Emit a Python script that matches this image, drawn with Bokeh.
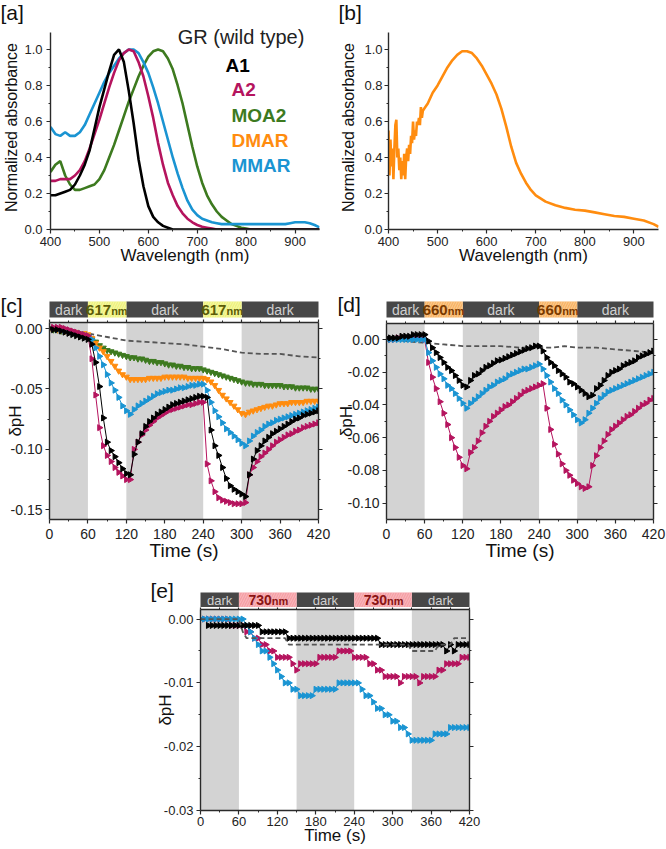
import math
from bokeh.plotting import figure
from bokeh.models import (Range1d, FixedTicker, LinearAxis, Label, BoxAnnotation, Spacer,
                          NumeralTickFormatter, CustomLabelingPolicy)
from bokeh.layouts import row, column
from bokeh.embed import file_html
from bokeh.resources import INLINE
from bokeh.core.properties import value

FONT = "Liberation Sans"
AXC = "#2a2a2a"
C_BLACK = "#000000"
C_MAG = "#b5145e"
C_GREEN = "#3d7a1f"
C_ORANGE = "#ff8c0f"
C_BLUE = "#1a94d2"
C_DASH = "#555555"
SHADE = "#d3d3d3"
NAN = float("nan")

# ---------------- panel a: spectra ----------------
WL = [400, 410, 420, 430, 440, 450, 460, 470, 480, 490,
      500, 510, 520, 530, 540, 550, 560, 570, 580, 590,
      600, 610, 620, 630, 640, 650, 660, 670, 680, 690,
      700, 710, 720, 730, 740, 750, 760, 770, 780, 790,
      800, 810, 820, 830, 840, 850, 860, 870, 880, 890,
      900, 910, 920, 930, 940, 950]
ABS_A1 = [0.19, 0.19, 0.20, 0.21, 0.22, 0.25, 0.30, 0.36, 0.44, 0.56,
          0.68, 0.78, 0.88, 0.97, 1.00, 0.93, 0.77, 0.59, 0.39, 0.24,
          0.13, 0.07, 0.04, 0.02, 0.01, 0.00, 0.00, 0.00, 0.00, 0.00,
          0.00, 0.00, 0.00, 0.00, 0.00, 0.00, 0.00, 0.00, 0.00, 0.00,
          0.00, 0.00, 0.00, 0.00, 0.00, 0.00, 0.00, 0.00, 0.00, 0.00,
          0.00, 0.00, 0.00, 0.00, 0.00, 0.00]
ABS_A2 = [0.27, 0.27, 0.28, 0.28, 0.28, 0.30, 0.33, 0.38, 0.45, 0.53,
          0.61, 0.70, 0.79, 0.87, 0.94, 0.98, 1.00, 0.99, 0.93, 0.85,
          0.74, 0.62, 0.48, 0.36, 0.26, 0.19, 0.13, 0.09, 0.06, 0.04,
          0.025, 0.015, 0.01, 0.005, 0.00, 0.00, 0.00, 0.00, 0.00, 0.00,
          0.00, 0.00, 0.00, 0.00, 0.00, 0.00, 0.00, 0.00, 0.00, 0.00,
          0.00, 0.00, 0.00, 0.00, 0.00, 0.00]
ABS_MOA2 = [0.32, 0.36, 0.38, 0.30, 0.25, 0.22, 0.22, 0.23, 0.24, 0.25,
            0.28, 0.33, 0.40, 0.47, 0.55, 0.63, 0.71, 0.78, 0.85, 0.91,
            0.96, 0.99, 1.00, 0.99, 0.95, 0.89, 0.80, 0.70, 0.58, 0.46,
            0.35, 0.26, 0.19, 0.14, 0.10, 0.07, 0.05, 0.03, 0.02, 0.01,
            0.005, 0.00, 0.00, 0.00, 0.00, 0.00, 0.00, 0.00, 0.00, 0.00,
            0.00, 0.00, 0.00, 0.00, 0.00, 0.00]
ABS_MMAR = [0.57, 0.53, 0.52, 0.54, 0.52, 0.52, 0.54, 0.58, 0.64, 0.70,
            0.76, 0.82, 0.87, 0.91, 0.95, 0.98, 1.00, 1.00, 0.98, 0.93,
            0.87, 0.79, 0.70, 0.60, 0.50, 0.40, 0.31, 0.23, 0.16, 0.11,
            0.08, 0.06, 0.05, 0.04, 0.035, 0.03, 0.03, 0.03, 0.03, 0.03,
            0.03, 0.03, 0.03, 0.03, 0.03, 0.03, 0.03, 0.03, 0.03, 0.035,
            0.04, 0.04, 0.04, 0.035, 0.025, 0.012]
LEGEND_NAMES = ["A1", "A2", "MOA2", "DMAR", "MMAR"]
LEGEND_COLORS = [C_BLACK, C_MAG, C_GREEN, C_ORANGE, C_BLUE]

# ---------------- panel b: DMAR spectrum ----------------
WL_B = [400, 402, 404, 406, 408, 410, 412, 414, 416, 418,
        420, 422, 424, 426, 428, 430, 432, 434, 436, 438,
        440, 442, 444, 446, 448, 450, 452, 454, 456, 458,
        460, 462, 464, 466, 468, 470, 475, 480, 490, 500,
        510, 520, 530, 540, 550, 560, 570, 580, 590, 600,
        610, 620, 630, 640, 650, 660, 670, 680, 690, 700,
        720, 740, 760, 780, 800, 820, 840, 860, 880, 900,
        920, 940, 950]
ABS_DMAR = [0.55, 0.30, 0.50, 0.35, 0.45, 0.28, 0.45, 0.58, 0.61, 0.40,
            0.45, 0.33, 0.40, 0.28, 0.38, 0.30, 0.42, 0.28, 0.40, 0.45,
            0.38, 0.47, 0.42, 0.52, 0.48, 0.60, 0.50, 0.55, 0.52, 0.60,
            0.58, 0.62, 0.58, 0.68, 0.62, 0.66, 0.68, 0.70, 0.76, 0.80,
            0.85, 0.90, 0.94, 0.97, 0.99, 0.99, 0.98, 0.95, 0.91, 0.86,
            0.81, 0.75, 0.67, 0.57, 0.46, 0.37, 0.31, 0.26, 0.22, 0.19,
            0.155, 0.135, 0.12, 0.11, 0.105, 0.095, 0.085, 0.075, 0.07, 0.06,
            0.05, 0.03, 0.015]

# ---------------- time axis for c, d, e ----------------
T = [0, 6, 12, 18, 24, 30, 36, 42, 48, 54,
     60, 66, 72, 78, 84, 90, 96, 102, 108, 114,
     120, 126, 132, 138, 144, 150, 156, 162, 168, 174,
     180, 186, 192, 198, 204, 210, 216, 222, 228, 234,
     240, 246, 252, 258, 264, 270, 276, 282, 288, 294,
     300, 306, 312, 318, 324, 330, 336, 342, 348, 354,
     360, 366, 372, 378, 384, 390, 396, 402, 408, 414,
     420]

# ---------------- panel c: 617 nm ----------------
C_A1 = [0.000, -0.001, -0.001, -0.002, -0.003, -0.004, -0.005, -0.006, -0.007, -0.008,
        -0.009, -0.013, -0.028, -0.048, -0.074, -0.094, -0.101, -0.106, -0.111, -0.116,
        -0.120, -0.121, -0.104, -0.094, -0.087, -0.081, -0.077, -0.074, -0.071, -0.069,
        -0.067, -0.065, -0.063, -0.062, -0.061, -0.060, -0.059, -0.058, -0.057, -0.056,
        -0.056, -0.057, -0.084, -0.097, -0.105, -0.115, -0.124, -0.130, -0.133, -0.135,
        -0.137, -0.139, -0.121, -0.108, -0.101, -0.097, -0.093, -0.090, -0.087, -0.085,
        -0.083, -0.081, -0.079, -0.077, -0.075, -0.074, -0.072, -0.071, -0.070, -0.069,
        -0.068]
C_A2 = [0.000, 0.001, 0.001, 0.001, 0.000, -0.001, -0.002, -0.003, -0.004, -0.005,
        -0.006, -0.025, -0.055, -0.082, -0.097, -0.105, -0.110, -0.115, -0.119, -0.122,
        -0.125, -0.125, -0.100, -0.094, -0.088, -0.084, -0.080, -0.077, -0.074, -0.072,
        -0.070, -0.068, -0.067, -0.066, -0.065, -0.064, -0.063, -0.063, -0.062, -0.061,
        -0.061, -0.112, -0.126, -0.135, -0.140, -0.142, -0.143, -0.144, -0.145, -0.145,
        -0.145, -0.144, -0.121, -0.115, -0.110, -0.106, -0.103, -0.100, -0.097, -0.094,
        -0.092, -0.090, -0.088, -0.087, -0.085, -0.084, -0.082, -0.081, -0.080, -0.079,
        -0.078]
C_MMAR = [0.000, 0.000, -0.001, -0.001, -0.002, -0.002, -0.003, -0.004, -0.004, -0.005,
          -0.006, -0.009, -0.016, -0.023, -0.030, -0.038, -0.045, -0.051, -0.057, -0.064,
          -0.068, -0.071, -0.067, -0.064, -0.062, -0.060, -0.058, -0.056, -0.054, -0.053,
          -0.052, -0.051, -0.051, -0.050, -0.049, -0.049, -0.048, -0.047, -0.047, -0.046,
          -0.046, -0.051, -0.061, -0.068, -0.073, -0.078, -0.083, -0.086, -0.089, -0.092,
          -0.095, -0.097, -0.093, -0.089, -0.086, -0.084, -0.081, -0.079, -0.078, -0.076,
          -0.075, -0.074, -0.073, -0.072, -0.071, -0.070, -0.069, -0.068, -0.067, -0.066,
          -0.065]
C_DMAR = [0.000, 0.000, -0.001, -0.001, -0.002, -0.002, -0.003, -0.003, -0.004, -0.004,
          -0.005, -0.008, -0.012, -0.016, -0.019, -0.023, -0.027, -0.031, -0.035, -0.038,
          -0.040, -0.042, -0.042, -0.042, -0.042, -0.042, -0.041, -0.041, -0.041, -0.041,
          -0.040, -0.040, -0.040, -0.040, -0.040, -0.040, -0.041, -0.041, -0.041, -0.041,
          -0.041, -0.042, -0.044, -0.047, -0.051, -0.055, -0.058, -0.061, -0.064, -0.067,
          -0.070, -0.071, -0.069, -0.068, -0.067, -0.066, -0.065, -0.064, -0.064, -0.063,
          -0.062, -0.062, -0.062, -0.061, -0.061, -0.061, -0.061, -0.060, -0.060, -0.060,
          -0.060]
C_MOA2 = [0.000, -0.001, -0.001, -0.002, -0.002, -0.003, -0.004, -0.004, -0.005, -0.006,
          -0.007, -0.009, -0.011, -0.014, -0.016, -0.018, -0.019, -0.020, -0.021, -0.022,
          -0.023, -0.024, -0.024, -0.025, -0.025, -0.026, -0.027, -0.027, -0.028, -0.028,
          -0.029, -0.030, -0.030, -0.031, -0.031, -0.032, -0.032, -0.033, -0.033, -0.033,
          -0.034, -0.035, -0.036, -0.037, -0.038, -0.039, -0.040, -0.041, -0.042, -0.043,
          -0.044, -0.045, -0.045, -0.046, -0.046, -0.046, -0.047, -0.047, -0.047, -0.047,
          -0.047, -0.048, -0.048, -0.048, -0.049, -0.049, -0.049, -0.049, -0.050, -0.050,
          -0.050]
TD_C = [0, 30, 60, 90, 120, 150, 180, 210, 240, 270, 300, 330, 360, 390, 420]
DARK_CTRL_C = [0.000, -0.002, -0.004, -0.007, -0.010, -0.011, -0.012, -0.013, -0.015,
               -0.017, -0.020, -0.021, -0.021, -0.023, -0.024]

# ---------------- panel d: 660 nm ----------------
D_A1 = [0.001, 0.001, 0.001, 0.001, 0.002, 0.002, 0.002, 0.003, 0.003, 0.003,
        0.003, -0.001, -0.005, -0.008, -0.011, -0.014, -0.017, -0.019, -0.022, -0.025,
        -0.028, -0.029, -0.025, -0.022, -0.021, -0.019, -0.017, -0.016, -0.0145, -0.013,
        -0.0125, -0.0115, -0.0105, -0.0095, -0.0085, -0.0075, -0.0065, -0.0055, -0.005, -0.004,
        -0.004, -0.007, -0.011, -0.014, -0.016, -0.019, -0.021, -0.023, -0.026, -0.027,
        -0.029, -0.031, -0.033, -0.035, -0.034, -0.030, -0.028, -0.025, -0.022, -0.020,
        -0.019, -0.018, -0.016, -0.015, -0.014, -0.013, -0.011, -0.010, -0.009, -0.008,
        -0.007]
D_MMAR = [0.000, 0.000, 0.000, 0.000, 0.000, 0.000, 0.000, 0.000, 0.000, 0.000,
          0.000, -0.008, -0.013, -0.017, -0.021, -0.024, -0.028, -0.030, -0.033, -0.036,
          -0.039, -0.042, -0.039, -0.037, -0.035, -0.033, -0.031, -0.029, -0.028, -0.026,
          -0.025, -0.024, -0.022, -0.021, -0.020, -0.019, -0.018, -0.018, -0.017, -0.016,
          -0.015, -0.018, -0.022, -0.026, -0.030, -0.033, -0.037, -0.040, -0.043, -0.046,
          -0.049, -0.051, -0.049, -0.045, -0.042, -0.039, -0.036, -0.034, -0.032, -0.031,
          -0.030, -0.029, -0.028, -0.027, -0.026, -0.025, -0.024, -0.023, -0.022, -0.021,
          -0.020]
D_A2 = [0.000, 0.000, 0.000, 0.001, 0.001, 0.001, 0.001, 0.001, 0.001, 0.001,
        0.000, -0.014, -0.023, -0.030, -0.038, -0.045, -0.052, -0.060, -0.066, -0.072,
        -0.077, -0.079, -0.069, -0.066, -0.062, -0.057, -0.053, -0.050, -0.047, -0.045,
        -0.043, -0.041, -0.040, -0.038, -0.036, -0.034, -0.032, -0.031, -0.030, -0.029,
        -0.028, -0.027, -0.042, -0.055, -0.064, -0.070, -0.076, -0.080, -0.083, -0.086,
        -0.088, -0.090, -0.091, -0.090, -0.077, -0.071, -0.066, -0.062, -0.058, -0.055,
        -0.053, -0.051, -0.049, -0.047, -0.046, -0.044, -0.042, -0.040, -0.039, -0.037,
        -0.036]
TD_D = [0, 30, 60, 90, 120, 150, 180, 210, 240, 260, 280, 300, 330, 360, 390, 420]
DARK_CTRL_D = [0.000, -0.001, -0.002, -0.003, -0.004, -0.004, -0.004, -0.005, -0.005,
               -0.005, -0.004, -0.005, -0.005, -0.006, -0.007, -0.008]

# ---------------- panel e: 730 nm ----------------
E_A1 = [NAN, NAN, -0.001, -0.001, -0.001, -0.001, -0.001, -0.001, -0.001, -0.001,
        -0.001, -0.001, -0.001, -0.001, -0.001, -0.001, -0.002, -0.002, -0.002, -0.002,
        -0.002, -0.002, -0.002, -0.003, -0.003, -0.003, -0.003, -0.003, -0.003, -0.003,
        -0.003, -0.003, -0.003, -0.003, -0.003, -0.003, -0.003, -0.003, -0.003, -0.003,
        -0.003, -0.003, -0.003, -0.003, -0.003, -0.003, -0.003, -0.004, -0.004, -0.004,
        -0.004, -0.004, -0.004, -0.004, -0.004, -0.004, -0.004, -0.004, -0.004, -0.004,
        -0.004, -0.004, -0.004, -0.004, -0.005, -0.004, -0.005, -0.004, -0.004, -0.004,
        -0.004]
E_A2 = [0.000, 0.000, 0.000, 0.000, 0.000, 0.000, 0.000, 0.000, -0.001, -0.001,
        -0.001, -0.001, -0.002, -0.002, -0.003, -0.003, -0.004, -0.004, -0.005, -0.005,
        -0.006, -0.006, -0.006, -0.006, -0.007, -0.008, -0.007, -0.007, -0.007, -0.007,
        -0.007, -0.006, -0.006, -0.006, -0.006, -0.006, -0.005, -0.005, -0.005, -0.005,
        -0.006, -0.006, -0.006, -0.006, -0.007, -0.007, -0.008, -0.008, -0.009, -0.009,
        -0.009, -0.009, -0.010, -0.009, -0.009, -0.009, -0.009, -0.010, -0.009, -0.009,
        -0.009, -0.009, -0.008, -0.008, -0.007, -0.007, -0.007, -0.007, -0.006, -0.006,
        -0.006]
E_MMAR = [0.000, 0.000, 0.000, 0.000, 0.000, 0.000, 0.000, 0.000, 0.000, 0.000,
          0.000, 0.000, -0.001, -0.002, -0.003, -0.004, -0.005, -0.005, -0.006, -0.007,
          -0.008, -0.009, -0.010, -0.010, -0.011, -0.011, -0.012, -0.012, -0.012, -0.012,
          -0.011, -0.011, -0.011, -0.011, -0.011, -0.011, -0.010, -0.010, -0.010, -0.010,
          -0.010, -0.010, -0.011, -0.012, -0.012, -0.013, -0.014, -0.014, -0.015, -0.015,
          -0.016, -0.016, -0.017, -0.017, -0.018, -0.019, -0.019, -0.019, -0.019, -0.019,
          -0.019, -0.018, -0.018, -0.018, -0.018, -0.017, -0.017, -0.017, -0.017, -0.017,
          -0.017]
TD_E = [0, 60, 66, 72, 132, 138, 324, 330, 366, 372, 390, 396, 420]
DARK_CTRL_E = [0.000, 0.000, -0.002, -0.003, -0.003, -0.004, -0.004, -0.005, -0.005,
               -0.004, -0.004, -0.003, -0.003]

# illumination protocol
C_DARK_START, C_DARK_END = [0, 120, 300], [60, 240, 420]
C_LIGHT_START, C_LIGHT_END = [60, 240], [120, 300]
E_DARK_START, E_DARK_END = [0, 150, 330], [60, 240, 420]
E_LIGHT_START, E_LIGHT_END = [60, 240], [150, 330]

T_TICKS = [0, 60, 120, 180, 240, 300, 360, 420]
T_MINOR = [30, 90, 150, 210, 270, 330, 390]
WL_TICKS = [400, 500, 600, 700, 800, 900]
WL_MINOR = [450, 550, 650, 750, 850]
ABS_TICKS = [0.0, 0.2, 0.4, 0.6, 0.8, 1.0]
ABS_MINOR = [0.1, 0.3, 0.5, 0.7, 0.9]
C_YT, C_YM = [0.0, -0.05, -0.10, -0.15], [-0.025, -0.075, -0.125]
D_YT, D_YM = [0.0, -0.02, -0.04, -0.06, -0.08, -0.10], [-0.01, -0.03, -0.05, -0.07, -0.09]
E_YT, E_YM = [0.0, -0.01, -0.02, -0.03], [-0.005, -0.015, -0.025]


def bare(fig):
    fig.axis.visible = False
    fig.grid.visible = False
    fig.outline_line_color = None
    return fig


def make_fig(xr, yr, fw, fh, bl, br, bt, bb):
    p = figure(x_range=xr, y_range=yr, frame_width=fw, frame_height=fh,
               min_border=0, min_border_left=bl, min_border_right=br,
               min_border_top=bt, min_border_bottom=bb,
               output_backend="svg", toolbar_location=None)
    p.grid.visible = False
    p.outline_line_color = None
    return p


def style_axis(ax, ticks, minor, fmt, size, label=None, lsize="17px", lstand=3,
               mstand=3, show=True, tick_out=4):
    ax.ticker = FixedTicker(ticks=ticks, minor_ticks=minor)
    ax.formatter = NumeralTickFormatter(format=fmt)
    ax.axis_line_color = AXC
    ax.axis_line_width = 1.4
    ax.major_tick_line_color = AXC
    ax.major_tick_line_width = 1.2
    ax.minor_tick_line_color = AXC
    ax.major_tick_in = 0
    ax.major_tick_out = tick_out
    ax.minor_tick_in = 0
    ax.minor_tick_out = 2
    ax.major_label_text_font = FONT
    ax.major_label_text_color = "#222222"
    if show:
        ax.major_label_text_font_size = size
        ax.major_label_standoff = mstand
    else:
        ax.major_label_text_font_size = "0px"
        ax.major_label_standoff = 0
        ax.major_label_policy = CustomLabelingPolicy(code="return []")
    if label:
        ax.axis_label = label
        ax.axis_label_text_font = FONT
        ax.axis_label_text_font_size = lsize
        ax.axis_label_text_font_style = "normal"
        ax.axis_label_text_color = "#111111"
        ax.axis_label_standoff = lstand


def add_box(p, xt, xm, yt, ym, top_out=3):
    ra = LinearAxis()
    style_axis(ra, yt, ym, "0.00", "0px", show=False)
    p.add_layout(ra, "right")
    ta = LinearAxis()
    style_axis(ta, xt, xm, "0", "0px", show=False, tick_out=top_out)
    p.add_layout(ta, "above")


def header(main_x, fw, bl, br, height, bar_top, bar_h, dstart, dend, lstart, lend, lam,
           fill, hatch, tcol, fs_dark, fs_lam, fs_nm, off, letter, letter_x, letter_top):
    # the header frame covers its whole canvas; its x scale matches the main plot below
    k = (main_x[1] - main_x[0]) / fw
    x_lo, x_hi = main_x[0] - bl * k, main_x[1] + br * k
    y_hi = 1 + bar_top / bar_h
    y_lo = 1 - (height - bar_top) / bar_h
    width = bl + fw + br
    h = figure(x_range=Range1d(x_lo, x_hi), y_range=Range1d(y_lo, y_hi),
               frame_width=width, frame_height=height, min_border=0,
               output_backend="svg", toolbar_location=None)
    bare(h)
    h.quad(left=dstart, right=dend, bottom=0, top=1, fill_color="#474747", line_color=None)
    h.quad(left=lstart, right=lend, bottom=0, top=1, fill_color=fill, line_color=None,
           hatch_pattern="/", hatch_color=hatch, hatch_alpha=0.6, hatch_scale=5,
           hatch_weight=0.8)
    dc = [(a + b) / 2 for a, b in zip(dstart, dend)]
    lc = [(a + b) / 2 for a, b in zip(lstart, lend)]
    h.text(x=dc, y=[0.5] * len(dc), text=["dark"] * len(dc), text_font=value(FONT),
           text_font_size=fs_dark, text_color="#d0d0d0", text_align="center",
           text_baseline="middle")
    h.text(x=lc, y=[0.5] * len(lc), text=[lam] * len(lc), text_font=value(FONT),
           text_font_size=fs_lam, text_font_style="bold", text_color=tcol,
           text_align="right", text_baseline="middle", x_offset=off)
    h.text(x=lc, y=[0.42] * len(lc), text=["nm"] * len(lc), text_font=value(FONT),
           text_font_size=fs_nm, text_font_style="bold", text_color=tcol,
           text_align="left", text_baseline="middle", x_offset=off)
    h.text(x=[x_lo + letter_x * k], y=[y_hi - letter_top / bar_h], text=[letter],
           text_font=value(FONT), text_font_size="21px", text_color="#111111",
           text_align="left", text_baseline="top")
    # wrapped in a row so that the layout does not align its frame with the plot below
    return row(h)


def shade(p, starts, ends):
    for s, e in zip(starts, ends):
        p.add_layout(BoxAnnotation(left=s, right=e, fill_color=SHADE, fill_alpha=1.0,
                                   line_color=None, level="underlay"))


def series(p, t, y, color, marker="triangle", angle=-math.pi / 2, size=6):
    p.line(t, y, line_color=color, line_width=1)
    p.scatter(t, y, marker=marker, angle=angle, size=size, fill_color=color,
              line_color=color)


# ================= top strip with panel letters a, b =================
strip = bare(figure(x_range=Range1d(0, 666), y_range=Range1d(0, 25), frame_width=666,
                    frame_height=25, min_border=0, output_backend="svg",
                    toolbar_location=None))
strip.text(x=[0, 338], y=[25, 25], text=["[a]", "[b]"], text_font=value(FONT),
           text_font_size="21px", text_color="#111111", text_align="left",
           text_baseline="top")

# ================= panel a =================
pa = make_fig(Range1d(400, 950), Range1d(0, 1.1333), 269, 204, 48, 16, 0, 51)
for y, c in [(ABS_MOA2, C_GREEN), (ABS_MMAR, C_BLUE), (ABS_A2, C_MAG), (ABS_A1, C_BLACK)]:
    pa.line(WL, y, line_color=c, line_width=2.6)
style_axis(pa.xaxis[0], WL_TICKS, WL_MINOR, "0", "13px", "Wavelength (nm)", "17px", -3, 3)
style_axis(pa.yaxis[0], ABS_TICKS, ABS_MINOR, "0.0", "13px", "Normalized absorbance", "16px", 1, 4)
pa.yaxis[0].bounds = (0, 1.094)
pa.add_layout(Label(x=660, y=1.1333, text="GR (wild type)", text_font=FONT,
                    text_font_size="20px", text_color="#222222", text_baseline="top"))
LEG_X = [758, 770, 770, 770, 770]
LEG_Y = [0.911, 0.778, 0.633, 0.494, 0.356]
for nm, col, lx, ly in zip(LEGEND_NAMES, LEGEND_COLORS, LEG_X, LEG_Y):
    pa.add_layout(Label(x=lx, y=ly, text=nm, text_font=FONT, text_font_size="19px",
                        text_font_style="bold", text_color=col, text_baseline="middle"))

# ================= panel b =================
pb = make_fig(Range1d(400, 950), Range1d(0, 1.1333), 270, 204, 53, 10, 0, 51)
pb.line(WL_B, ABS_DMAR, line_color=C_ORANGE, line_width=2.6)
style_axis(pb.xaxis[0], WL_TICKS, WL_MINOR, "0", "13px", "Wavelength (nm)", "17px", -3, 3)
style_axis(pb.yaxis[0], ABS_TICKS, ABS_MINOR, "0.0", "13px", "Normalized absorbance", "16px", 4, 2)
pb.yaxis[0].bounds = (0, 1.094)

# ================= panel c =================
hc = header((0, 420), 269, 49, 15, 38, 21, 16, C_DARK_START, C_DARK_END, C_LIGHT_START,
            C_LIGHT_END, "617", "#eef27e", "#fbfbd0", "#5c5c08", "14px", "15px", "11px", 4,
            "[c]", 0, 13)
pc = make_fig(Range1d(0, 420), Range1d(-0.158, 0.005), 269, 197, 49, 15, 4, 59)
shade(pc, C_DARK_START, C_DARK_END)
pc.line(TD_C, DARK_CTRL_C, line_color=C_DASH, line_width=1.8, line_dash="5 3")
series(pc, T, C_MOA2, C_GREEN, marker="inverted_triangle", angle=0)
series(pc, T, C_DMAR, C_ORANGE, marker="inverted_triangle", angle=0)
series(pc, T, C_MMAR, C_BLUE)
series(pc, T, C_A2, C_MAG)
series(pc, T, C_A1, C_BLACK)
style_axis(pc.xaxis[0], T_TICKS, T_MINOR, "0", "14px", "Time (s)", "19px", -2, 5)
style_axis(pc.yaxis[0], C_YT, C_YM, "0.00", "14px", "δpH", "17px", -17, 3)
add_box(pc, T_TICKS, T_MINOR, C_YT, C_YM)

# ================= panel d =================
hd = header((0, 420), 267, 53, 13, 38, 21, 16, C_DARK_START, C_DARK_END, C_LIGHT_START,
            C_LIGHT_END, "660", "#f8b466", "#fde2bd", "#7a3a00", "14px", "15px", "11px", 4,
            "[d]", 4, 12)
pd_ = make_fig(Range1d(0, 420), Range1d(-0.11, 0.0098), 267, 196, 53, 13, 5, 59)
shade(pd_, C_DARK_START, C_DARK_END)
pd_.line(TD_D, DARK_CTRL_D, line_color=C_DASH, line_width=1.8, line_dash="5 3")
series(pd_, T, D_A2, C_MAG)
series(pd_, T, D_MMAR, C_BLUE)
series(pd_, T, D_A1, C_BLACK)
style_axis(pd_.xaxis[0], T_TICKS, T_MINOR, "0", "14px", "Time (s)", "19px", -2, 5)
style_axis(pd_.yaxis[0], D_YT, D_YM, "0.00", "14px", "δpH", "17px", -11, 3)
add_box(pd_, T_TICKS, T_MINOR, D_YT, D_YM)

# ================= panel e =================
he = header((0, 420), 269, 50, 20, 29, 14, 15, E_DARK_START, E_DARK_END, E_LIGHT_START,
            E_LIGHT_END, "730", "#f5a0a6", "#fbd3d6", "#8a1414", "13px", "14px", "11px", 4,
            "[e]", 0, 0)
pe = make_fig(Range1d(0, 420), Range1d(-0.03, 0.0015), 269, 201, 50, 20, 2, 38)
shade(pe, E_DARK_START, E_DARK_END)
series(pe, T, E_A2, C_MAG)
series(pe, T, E_MMAR, C_BLUE)
series(pe, T, E_A1, C_BLACK)
pe.line(TD_E, DARK_CTRL_E, line_color=C_DASH, line_width=1.8, line_dash="5 3")
style_axis(pe.xaxis[0], T_TICKS, T_MINOR, "0", "13px", "Time (s)", "17px", -3, 2)
style_axis(pe.yaxis[0], E_YT, E_YM, "0.00", "13px", "δpH", "17px", -14, 3)
add_box(pe, T_TICKS, T_MINOR, E_YT, E_YM, top_out=2)

layout = column(
    strip,
    row(pa, pb),
    row(column(hc, pc), column(hd, pd_)),
    row(Spacer(width=150, height=10), column(he, pe)),
)

open("out.html", "w").write(file_html(layout, INLINE, "GR retinal analogs"))
